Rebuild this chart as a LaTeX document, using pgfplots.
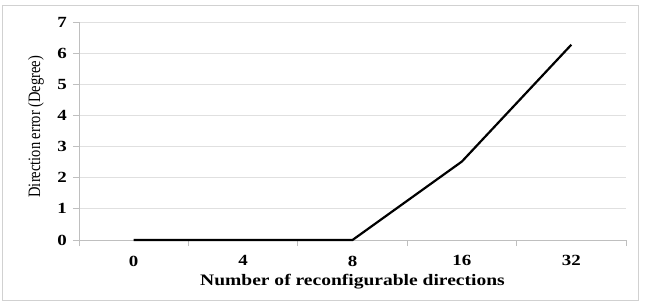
\documentclass[border=0pt]{standalone}
\usepackage{fontspec}
\setmainfont{Liberation Serif}
\newfontfamily\wide[FakeStretch=1.22]{Liberation Serif}
\usepackage{graphicx}
\usepackage{pgfplots}
\pgfplotsset{compat=1.18}
\begin{document}
\begin{tikzpicture}[x=1pt,y=1pt]
\path[use as bounding box] (0,0) rectangle (647,303);
\draw[black!18, line width=1pt] (2,3) rectangle (638,297);
\begin{axis}[
  at={(79pt,63pt)}, anchor=south west,
  scale only axis, width=547pt, height=218pt,
  xmin=-0.5, xmax=4.5, ymin=0, ymax=7,
  axis x line=bottom, axis y line=left,
  axis line style={-, black!25, line width=0.8pt},
  xtick={0,1,2,3,4},
  xticklabels={0,4,8,16,32},
  minor xtick={-0.5,0.5,1.5,2.5,3.5,4.5},
  ytick={0,1,...,7},
  ymajorgrids, grid style={black!12, line width=0.8pt},
  major x tick style={draw=none},
  minor x tick style={black!25, line width=0.8pt},
  minor tick length=6pt,
  major tick length=6pt,
  tick align=outside,
  y tick style={black!25, line width=0.8pt},
  tick label style={font=\wide\fontsize{15.5}{17}\selectfont\bfseries},
  /pgf/number format/assume math mode=true,
  yticklabel style={anchor=east, inner sep=0pt, xshift=-6pt},
  xticklabel style={anchor=north, inner sep=0pt, yshift=-9.5pt},
  xlabel={\wide\fontsize{16}{18}\selectfont\bfseries Number of reconfigurable directions},
  ylabel={\scalebox{1}[1.2]{\fontsize{14.5}{16}\selectfont Direction error (Degree)}},
  xlabel style={at={(axis description cs:0.5,0)}, anchor=north, inner sep=0pt, yshift=-34pt},
  ylabel style={at={(axis description cs:-0.0786,0.52)}, anchor=center, inner sep=0pt},
  clip=false,
]
\addplot[black, line width=2.2pt, line join=round] coordinates {(0,0) (1,0) (2,0) (3,2.52) (4,6.27)};
\end{axis}
\end{tikzpicture}
\end{document}
